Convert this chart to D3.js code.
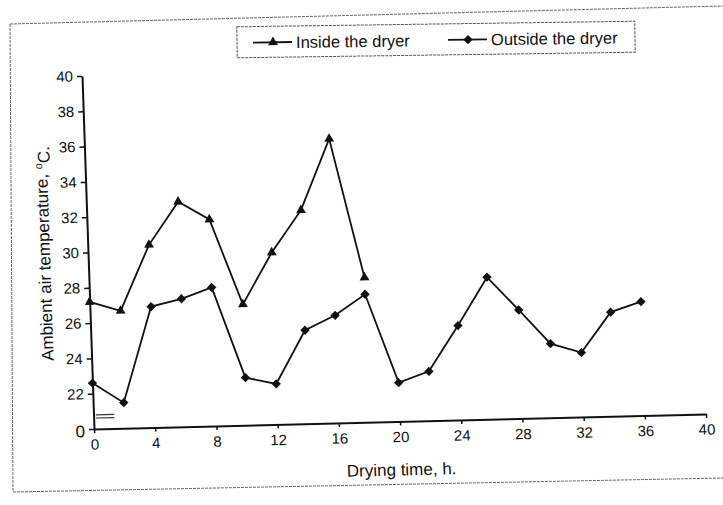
<!DOCTYPE html>
<html>
<head>
<meta charset="utf-8">
<script src="https://cdn.jsdelivr.net/npm/d3@7"></script>
<style>
  html, body { margin: 0; padding: 0; background: #fff; }
  svg { display: block; }
  text { font-family: "Liberation Sans", Arial, sans-serif; fill: #111; }
</style>
</head>
<body>
<div id="chart"></div>
<script>
// ---- data ----
const hoursInside = [0, 2, 4, 6, 8, 10, 12, 14, 16, 18];
const insideTemp = [27.2, 26.65, 30.35, 32.75, 31.7, 26.85, 29.75, 32.1, 36.1, 28.2];
const hoursOutside = [0, 2, 4, 6, 8, 10, 12, 14, 16, 18, 20, 22, 24, 26, 28, 30, 32, 34, 36];
const outsideTemp = [22.6, 21.45, 26.85, 27.25, 27.85, 22.7, 22.3, 25.3, 26.1, 27.25,
                     22.2, 22.8, 25.35, 28.05, 26.15, 24.2, 23.65, 25.9, 26.45];
const xTickValues = [0, 4, 8, 12, 16, 20, 24, 28, 32, 36, 40];
const yTickValues = [20, 22, 24, 26, 28, 30, 32, 34, 36, 38, 40];
const yTickLabels = ["0", "22", "24", "26", "28", "30", "32", "34", "36", "38", "40"];
const seriesNames = ["Inside the dryer", "Outside the dryer"];

// ---- layout ----
const W = 723, H = 505;
const plotW = 612, plotH = 353;

const svg = d3.select("#chart").append("svg")
  .attr("width", W).attr("height", H);
svg.append("rect").attr("width", W).attr("height", H).attr("fill", "#fff");

// scanned page frame
svg.append("path")
  .attr("d", "M10,24 L723,6 M10,24 L13,492 L723,478")
  .attr("fill", "none").attr("stroke", "#666").attr("stroke-width", 1)
  .attr("stroke-dasharray", "3,1");

// plot group, slightly skewed like the scan
const g = svg.append("g")
  .attr("transform", "matrix(1,-0.0245,0.034,1,94,429)");

const x = d3.scaleLinear().domain([0, 40]).range([0, plotW]);
const y = d3.scaleLinear().domain([20, 40]).range([0, -plotH]);

// x axis
const xAxis = g.append("g")
  .call(d3.axisBottom(x).tickValues(xTickValues).tickSizeInner(4).tickSizeOuter(0).tickPadding(6));
xAxis.select(".domain").attr("stroke", "#111").attr("stroke-width", 2);
xAxis.selectAll(".tick line").attr("stroke", "#111").attr("stroke-width", 1.5);
xAxis.selectAll(".tick text").style("font-size", "15px")
  .style("font-family", "'Liberation Sans', Arial, sans-serif").attr("fill", "#111");

// y axis
const yAxis = g.append("g")
  .call(d3.axisLeft(y).tickValues(yTickValues)
    .tickFormat((d, i) => yTickLabels[i]).tickSizeInner(5).tickSizeOuter(0).tickPadding(4));
yAxis.select(".domain").attr("stroke", "#111").attr("stroke-width", 2);
yAxis.selectAll(".tick line").attr("stroke", "#111").attr("stroke-width", 1.5);
yAxis.selectAll(".tick text").style("font-size", "15px")
  .style("font-family", "'Liberation Sans', Arial, sans-serif").attr("fill", "#111");
yAxis.selectAll(".tick").filter(d => d === 20).select("text").style("font-size", "17px").attr("dy", "0.45em");

// axis break mark
[20.62, 20.8].forEach(v => {
  g.append("line")
    .attr("x1", x(0.15)).attr("x2", x(1.35))
    .attr("y1", y(v)).attr("y2", y(v))
    .attr("stroke", "#333").attr("stroke-width", 1.2);
});

// axis titles
g.append("text")
  .attr("x", x(20)).attr("y", 54)
  .attr("text-anchor", "middle").style("font-size", "17px")
  .text("Drying time, h.");

const yt = g.append("text")
  .attr("transform", `translate(-38,${y(30)}) rotate(-90)`)
  .attr("text-anchor", "middle").style("font-size", "17px");
yt.append("tspan").text("Ambient air temperature, ");
yt.append("tspan").attr("dy", "-0.45em").style("font-size", "11px").text("o");
yt.append("tspan").attr("dy", "0.45em").text("C.");

// lines
const line = d3.line().x(d => x(d[0])).y(d => y(d[1]));
const insideData = hoursInside.map((h, i) => [h, insideTemp[i]]);
const outsideData = hoursOutside.map((h, i) => [h, outsideTemp[i]]);

g.append("path").datum(insideData).attr("d", line)
  .attr("fill", "none").attr("stroke", "#111").attr("stroke-width", 1.8);
g.append("path").datum(outsideData).attr("d", line)
  .attr("fill", "none").attr("stroke", "#111").attr("stroke-width", 1.8);

const tri = d3.symbol().type(d3.symbolTriangle).size(42);
const dia = d3.symbol().type(d3.symbolSquare).size(44);

g.selectAll(".tri").data(insideData).enter().append("path")
  .attr("d", tri).attr("fill", "#111")
  .attr("transform", d => `translate(${x(d[0])},${y(d[1])})`);
g.selectAll(".dia").data(outsideData).enter().append("path")
  .attr("d", dia).attr("fill", "#111")
  .attr("transform", d => `translate(${x(d[0])},${y(d[1])}) rotate(45)`);

// legend
const lg = svg.append("g").attr("transform", "rotate(-0.8,437,40)");
lg.append("rect").attr("x", 237).attr("y", 24).attr("width", 398).attr("height", 31)
  .attr("fill", "#fff").attr("stroke", "#555").attr("stroke-width", 1)
  .attr("stroke-dasharray", "3,1");
const legendItems = [
  { name: seriesNames[0], sym: tri, rot: 0, x0: 253 },
  { name: seriesNames[1], sym: dia, rot: 45, x0: 448 }
];
legendItems.forEach(it => {
  lg.append("line").attr("x1", it.x0).attr("x2", it.x0 + 39)
    .attr("y1", 40).attr("y2", 40).attr("stroke", "#111").attr("stroke-width", 1.8);
  lg.append("path").attr("d", it.sym).attr("fill", "#111")
    .attr("transform", `translate(${it.x0 + 20},40) rotate(${it.rot})`);
  lg.append("text").attr("x", it.x0 + 43).attr("y", 46)
    .style("font-size", "16.5px").text(it.name);
});
</script>
</body>
</html>
